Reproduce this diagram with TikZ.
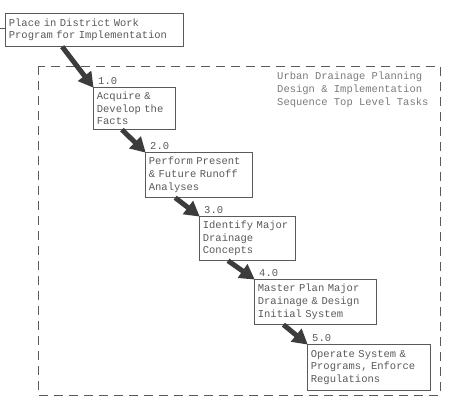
\documentclass[tikz,border=0pt]{standalone}
\usepackage{fontspec}
\setmonofont{Liberation Mono}
\usetikzlibrary{calc,arrows.meta}
\definecolor{ink}{HTML}{5A5A5A}
\definecolor{arr}{HTML}{3C3C3C}
\tikzset{
  tfont/.style={font=\ttfamily\fontsize{10.5}{12.6}\selectfont},
  task/.style={draw=ink, line width=0.7pt, rectangle, anchor=north west, inner xsep=3.5pt, inner ysep=2pt,
    align=left, tfont, text=ink},
  num/.style={anchor=south west, inner sep=1pt, tfont, text=ink},
  flow/.style={draw=arr, line width=5pt, -{Triangle[length=15pt,width=16pt]}, shorten >=-1pt},
  frame/.style={draw=ink, line width=0.7pt, dash pattern=on 9pt off 6pt}
}
\begin{document}
\begin{tikzpicture}[x=1pt,y=-1pt]
\useasboundingbox (0,0) rectangle (458,402);
\draw[frame] (38,66) rectangle (440,395);
\node[task, minimum width=178, minimum height=33, text width=171] (b0) at (5,13) {Place in District Work\\Program for Implementation};
\coordinate (in0) at (0,28);
\draw[draw=ink, line width=0.7pt] (in0) -- (in0 -| b0.west);
\node[anchor=north west, inner sep=0pt, align=left, tfont, text=ink!80] (title) at (277,72) {Urban Drainage Planning\\Design \& Implementation\\Sequence Top Level Tasks};
\node[task, minimum width=82, minimum height=42, text width=75] (b1) at (93,87) {Acquire \&\\Develop the\\Facts};
\node[task, minimum width=107, minimum height=45, text width=100] (b2) at (145,152) {Perform Present\\\& Future Runoff\\Analyses};
\node[task, minimum width=96, minimum height=44, text width=89] (b3) at (199,216) {Identify Major\\Drainage\\Concepts};
\node[task, minimum width=122, minimum height=45, text width=115] (b4) at (254,279) {Master Plan Major\\Drainage \& Design\\Initial System};
\node[task, minimum width=123, minimum height=46, text width=116] (b5) at (307,344) {Operate System \&\\Programs, Enforce\\Regulations};
\node[num] (n1) at ($(b1.north west)+(4,-1)$) {1.0};
\node[num] (n2) at ($(b2.north west)+(4,-1)$) {2.0};
\node[num] (n3) at ($(b3.north west)+(4,-1)$) {3.0};
\node[num] (n4) at ($(b4.north west)+(4,-1)$) {4.0};
\node[num] (n5) at ($(b5.north west)+(4,-1)$) {5.0};
\draw[flow] ($(b0.south west)!0.32!(b0.south east)$) -- (b1.north west);
\draw[flow] ($(b1.south west)!0.35!(b1.south east)$) -- (b2.north west);
\draw[flow] ($(b2.south west)!0.28!(b2.south east)$) -- (b3.north west);
\draw[flow] ($(b3.south west)!0.30!(b3.south east)$) -- (b4.north west);
\draw[flow] ($(b4.south west)!0.24!(b4.south east)$) -- (b5.north west);
\end{tikzpicture}
\end{document}
